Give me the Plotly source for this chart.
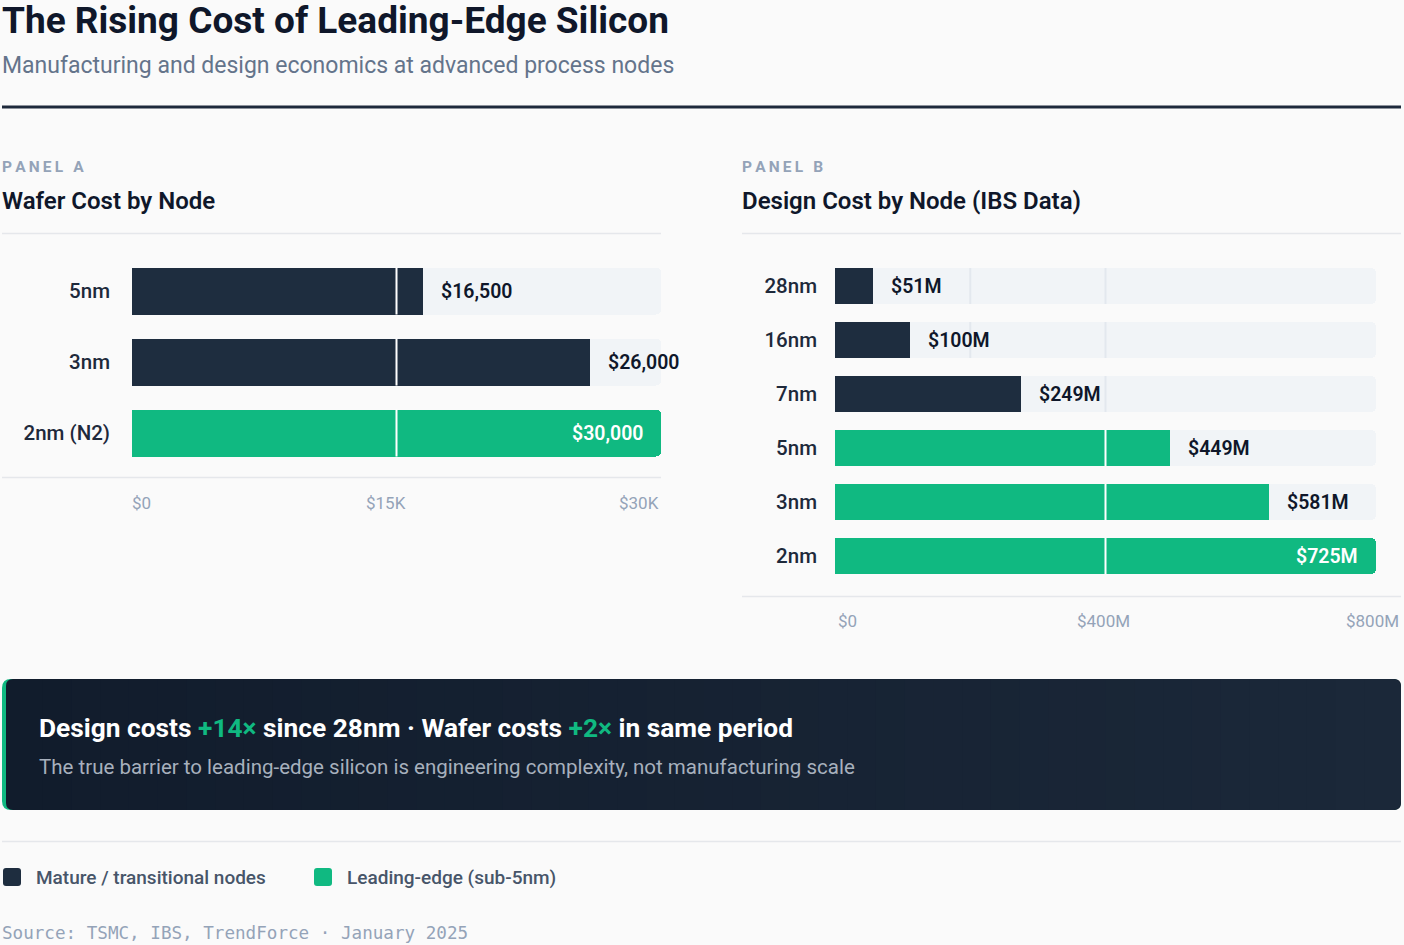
import plotly.graph_objects as go

# ---------------- data ----------------
wafer_nodes = ["5nm", "3nm", "2nm (N2)"]
wafer_cost = [16500, 26000, 30000]
wafer_leading = [False, False, True]
wafer_ticks = ["$0", "$15K", "$30K"]

design_nodes = ["28nm", "16nm", "7nm", "5nm", "3nm", "2nm"]
design_cost = [51, 100, 249, 449, 581, 725]
design_leading = [False, False, False, True, True, True]
design_ticks = ["$0", "$400M", "$800M"]

TITLE = "The Rising Cost of Leading-Edge Silicon"
SUBTITLE = "Manufacturing and design economics at advanced process nodes"
SOURCE = "Source: TSMC, IBS, TrendForce · January 2025"

# ---------------- style ----------------
W, H = 1404, 945
BG = "#fafafa"
DARK = "#1e2d3f"
GREEN = "#10b981"
TRACK = "#f1f4f7"
INK = "#0f172a"
MUTED = "#94a3b8"
SANS = "Roboto"
MONO = "DejaVu Sans Mono"
TX = -2  # small text inset correction (annotation padding)


def px(x):
    return x / W


def py(y):
    return 1 - y / H


fig = go.Figure()

# panel geometry (pixels)
A_x0, A_x1, A_ytop, A_ybot = 132, 661, 255.5, 468.5
B_x0, B_x1, B_ytop, B_ybot = 835, 1376, 259, 583
A_w = 47 / 71
B_w = 36 / 54

a_max = max(wafer_cost)
b_max = max(design_cost)

# tracks + bars
fig.add_trace(go.Bar(x=[a_max] * len(wafer_nodes), y=wafer_nodes, orientation="h",
                     marker=dict(color=TRACK, cornerradius=5, line=dict(width=0)),
                     width=A_w, hoverinfo="skip", xaxis="x", yaxis="y"))
fig.add_trace(go.Bar(x=wafer_cost, y=wafer_nodes, orientation="h",
                     marker=dict(color=[GREEN if l else DARK for l in wafer_leading],
                                 cornerradius=5, line=dict(width=0)),
                     width=A_w, xaxis="x", yaxis="y"))
fig.add_trace(go.Bar(x=[b_max] * len(design_nodes), y=design_nodes, orientation="h",
                     marker=dict(color=TRACK, cornerradius=5, line=dict(width=0)),
                     width=B_w, hoverinfo="skip", xaxis="x2", yaxis="y2"))
fig.add_trace(go.Bar(x=design_cost, y=design_nodes, orientation="h",
                     marker=dict(color=[GREEN if l else DARK for l in design_leading],
                                 cornerradius=5, line=dict(width=0)),
                     width=B_w, xaxis="x2", yaxis="y2"))

shapes = []
annotations = []


# grid segments at 25% and 50% of the track
def grid_segments(values, vmax, width, xref, yref):
    for i, v in enumerate(values):
        for frac in (0.25, 0.5):
            g = vmax * frac
            if v < g:
                col = "#e3e8ee"
            elif frac == 0.5:
                col = "#ffffff"
            else:
                continue
            shapes.append(dict(type="line", xref=xref, yref=yref, x0=g, x1=g,
                               y0=i - width / 2, y1=i + width / 2,
                               line=dict(color=col, width=2), layer="above"))


grid_segments(wafer_cost, a_max, A_w, "x", "y")
grid_segments(design_cost, b_max, B_w, "x2", "y2")


# value labels
def value_labels(nodes, values, vmax, xref, yref, fmt):
    for n, v in zip(nodes, values):
        inside = v >= vmax
        annotations.append(dict(
            x=v, y=n, xref=xref, yref=yref, text=fmt(v), showarrow=False,
            xanchor="right" if inside else "left", xshift=-16 if inside else 16,
            yanchor="middle",
            font=dict(family=SANS, size=19.5, weight=600,
                      color="#ffffff" if inside else INK)))


value_labels(wafer_nodes, wafer_cost, a_max, "x", "y", lambda v: f"${v:,.0f}")
value_labels(design_nodes, design_cost, b_max, "x2", "y2", lambda v: f"${v:,.0f}M")


# tick labels laid out like a space-between row
def tick_row(labels, x0, x1, y):
    widths = [len(s) * 10.5 for s in labels]
    mid = x0 + ((x1 - x0) + widths[0] - widths[2]) / 2
    for lab, anc, x in zip(labels, ["left", "center", "right"], [x0 + TX, mid, x1]):
        annotations.append(dict(x=px(x), y=py(y), xref="paper", yref="paper",
                                text=lab, showarrow=False, xanchor=anc, yanchor="middle",
                                font=dict(family=SANS, size=17, color=MUTED)))


tick_row(wafer_ticks, 132, 661, 503)
tick_row(design_ticks, 838, 1401, 621)

# ---------- header ----------
annotations.append(dict(x=px(0), y=py(20), xref="paper", yref="paper", text=TITLE,
                        showarrow=False, xanchor="left", yanchor="middle",
                        font=dict(family=SANS, size=37, weight=700, color=INK)))
annotations.append(dict(x=px(0), y=py(66), xref="paper", yref="paper", text=SUBTITLE,
                        showarrow=False, xanchor="left", yanchor="middle",
                        font=dict(family=SANS, size=23, color="#64748b")))
shapes.append(dict(type="line", xref="paper", yref="paper", x0=px(2), x1=px(1401),
                   y0=py(107), y1=py(107), line=dict(color="#1e293b", width=3)))

# panel headers
for xl, lab, title, xr in [(2, "PANEL A", "Wafer Cost by Node", 661),
                           (742, "PANEL B", "Design Cost by Node (IBS Data)", 1401)]:
    spaced = "\u2009".join(list(lab))
    annotations.append(dict(x=px(xl + TX), y=py(167), xref="paper", yref="paper", text=spaced,
                            showarrow=False, xanchor="left", yanchor="middle",
                            font=dict(family=SANS, size=15.5, weight=700, color=MUTED)))
    annotations.append(dict(x=px(xl + TX), y=py(201), xref="paper", yref="paper", text=title,
                            showarrow=False, xanchor="left", yanchor="middle",
                            font=dict(family=SANS, size=24, weight=600, color=INK)))
    shapes.append(dict(type="line", xref="paper", yref="paper", x0=px(xl), x1=px(xr),
                       y0=py(233.5), y1=py(233.5), line=dict(color="#e5e7eb", width=1.5)))

shapes.append(dict(type="line", xref="paper", yref="paper", x0=px(2), x1=px(661),
                   y0=py(477.5), y1=py(477.5), line=dict(color="#e5e7eb", width=1.5)))
shapes.append(dict(type="line", xref="paper", yref="paper", x0=px(742), x1=px(1401),
                   y0=py(596.5), y1=py(596.5), line=dict(color="#e5e7eb", width=1.5)))


# ---------- callout ----------
def rrect(x0, y0, x1, y1, r):
    rx, ry = r / W, r / H
    X0, X1 = px(x0), px(x1)
    Y0, Y1 = py(y0), py(y1)
    return (f"M {X0+rx},{Y0} L {X1-rx},{Y0} Q {X1},{Y0} {X1},{Y0-ry} "
            f"L {X1},{Y1+ry} Q {X1},{Y1} {X1-rx},{Y1} L {X0+rx},{Y1} "
            f"Q {X0},{Y1} {X0},{Y1+ry} L {X0},{Y0-ry} Q {X0},{Y0} {X0+rx},{Y0} Z")


def mix(c1, c2, t):
    a = [int(c1[i:i + 2], 16) for i in (1, 3, 5)]
    b = [int(c2[i:i + 2], 16) for i in (1, 3, 5)]
    return "#" + "".join(f"{round(p + (q - p) * t):02x}" for p, q in zip(a, b))


G_LEFT, G_RIGHT = "#111c2c", "#1b2839"
shapes.append(dict(type="path", xref="paper", yref="paper", path=rrect(2, 679, 1401, 810, 9),
                   fillcolor=GREEN, line=dict(width=0)))
shapes.append(dict(type="path", xref="paper", yref="paper", path=rrect(6, 679, 1401, 810, 7),
                   fillcolor=G_LEFT, line=dict(width=0)))
n_strips = 48
x_start, x_end = 14, 1393
step = (x_end - x_start) / n_strips
for k in range(n_strips):
    x0 = x_start + k * step
    shapes.append(dict(type="rect", xref="paper", yref="paper", x0=px(x0),
                       x1=px(min(x0 + step + 0.8, x_end)),
                       y0=py(810), y1=py(679), fillcolor=mix(G_LEFT, G_RIGHT, (k + 0.5) / n_strips),
                       line=dict(width=0)))
shapes.append(dict(type="path", xref="paper", yref="paper", path=rrect(1380, 679, 1401, 810, 9),
                   fillcolor=G_RIGHT, line=dict(width=0)))
shapes.append(dict(type="rect", xref="paper", yref="paper", x0=px(1380), x1=px(1394),
                   y0=py(810), y1=py(679), fillcolor=G_RIGHT, line=dict(width=0)))

g = f"<span style='color:{GREEN}'>"
callout = (f"Design costs {g}+14×</span> since 28nm · Wafer costs {g}+2×</span> in same period")
annotations.append(dict(x=px(39 + TX), y=py(728), xref="paper", yref="paper", text=callout,
                        showarrow=False, xanchor="left", yanchor="middle",
                        font=dict(family=SANS, size=26.3, weight=700, color="#ffffff")))
annotations.append(dict(x=px(39 + TX), y=py(767), xref="paper", yref="paper",
                        text="The true barrier to leading-edge silicon is engineering complexity, not manufacturing scale",
                        showarrow=False, xanchor="left", yanchor="middle",
                        font=dict(family=SANS, size=20.5, color="#a7b0bd")))

# ---------- legend ----------
shapes.append(dict(type="line", xref="paper", yref="paper", x0=px(2), x1=px(1401),
                   y0=py(841.5), y1=py(841.5), line=dict(color="#e5e7eb", width=1.5)))
for sx, col, lab in [(3, DARK, "Mature / transitional nodes"), (314, GREEN, "Leading-edge (sub-5nm)")]:
    shapes.append(dict(type="path", xref="paper", yref="paper", path=rrect(sx, 868, sx + 18, 886, 3),
                       fillcolor=col, line=dict(width=0)))
    annotations.append(dict(x=px(sx + 33 + TX), y=py(877), xref="paper", yref="paper", text=lab,
                            showarrow=False, xanchor="left", yanchor="middle",
                            font=dict(family=SANS, size=19, weight=500, color="#475569")))

annotations.append(dict(x=px(0), y=py(933), xref="paper", yref="paper", text=SOURCE,
                        showarrow=False, xanchor="left", yanchor="middle",
                        font=dict(family=MONO, size=17.6, color=MUTED)))

# ---------- layout ----------
axis_common = dict(showgrid=False, zeroline=False, showline=False, fixedrange=True)
fig.update_layout(
    width=W, height=H, margin=dict(l=0, r=0, t=0, b=0),
    paper_bgcolor=BG, plot_bgcolor="rgba(0,0,0,0)",
    barmode="overlay", showlegend=False, bargap=0,
    xaxis=dict(domain=[px(A_x0), px(A_x1)], range=[0, a_max], showticklabels=False,
               anchor="y", **axis_common),
    yaxis=dict(domain=[py(A_ybot), py(A_ytop)], range=[len(wafer_nodes) - 0.5, -0.5],
               type="category", categoryorder="array", categoryarray=wafer_nodes,
               anchor="x", ticks="", ticklabelstandoff=21,
               tickfont=dict(family=SANS, size=20.5, weight=500, color="#1e293b"), **axis_common),
    xaxis2=dict(domain=[px(B_x0), px(B_x1)], range=[0, b_max], showticklabels=False,
                anchor="y2", **axis_common),
    yaxis2=dict(domain=[py(B_ybot), py(B_ytop)], range=[len(design_nodes) - 0.5, -0.5],
                type="category", categoryorder="array", categoryarray=design_nodes,
                anchor="x2", ticks="", ticklabelstandoff=17,
                tickfont=dict(family=SANS, size=20.5, weight=500, color="#1e293b"), **axis_common),
    shapes=shapes, annotations=annotations,
)

fig.write_html(
    "out.html",
    config={"displayModeBar": False},
    post_script="document.body.style.margin='0';document.body.style.overflow='hidden';"
                "document.body.style.background='#fafafa';",
)
